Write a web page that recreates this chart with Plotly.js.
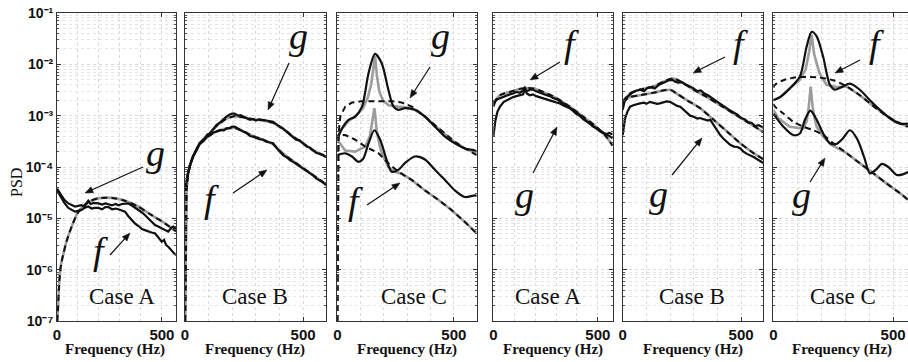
<!DOCTYPE html>
<html><head><meta charset="utf-8">
<script src="https://cdn.plot.ly/plotly-3.0.1.min.js"></script>
<style>html,body{margin:0;padding:0;background:#fff}#chart{width:908px;height:362px}</style>
</head><body><div id="chart"></div>
<script>
// ---------------- DATA ----------------
const caseLabels = ['Case A','Case B','Case C','Case A','Case B','Case C'];
const xTickText = ['0','500'];
const yTickText = ['10\u207B\u2077','10\u207B\u2076','10\u207B\u2075','10\u207B\u2074','10\u207B\u00B3','10\u207B\u00B2','10\u207B\u00B9'];

// Panel 1 : Case A (left group)
const a1_fit_hz  = [1,4,8,13,20,30,45,70,100,148,195,262,324,386,451,514,567];
const a1_fit_psd = [1e-7,1.5e-7,3.5e-7,7.5e-7,1.3e-6,2e-6,3.5e-6,6.9e-6,1.3e-5,2.05e-5,2.45e-5,2.5e-5,2.2e-5,1.7e-5,1.15e-5,8e-6,5.6e-6];
const a1_g_hz  = [0,10,22,35,54,70,86,100,117,130,140,149,160,175,197,215,230,245,262,280,292,310,325,340,355,370,387,405,420,435,450,467,480,499,515,530,545,554,567];
const a1_g_psd = [3.8e-5,3.3e-5,2.8e-5,2.3e-5,1.95e-5,1.8e-5,1.7e-5,1.75e-5,1.8e-5,1.7e-5,1.95e-5,2.2e-5,1.9e-5,2.0e-5,1.95e-5,1.85e-5,1.95e-5,1.9e-5,1.8e-5,1.9e-5,1.8e-5,1.9e-5,1.95e-5,1.95e-5,1.8e-5,1.65e-5,1.45e-5,1.3e-5,1.15e-5,1.0e-5,8.5e-6,7.4e-6,7.0e-6,6.3e-6,5.8e-6,5.5e-6,6.6e-6,6.9e-6,6.3e-6];
const a1_f_hz  = [0,10,22,35,54,70,86,100,117,130,149,165,180,197,215,230,245,262,280,292,310,324,340,355,371,390,405,419,435,450,467,480,499,510,520,530,545,567];
const a1_f_psd = [3.5e-5,3.0e-5,2.5e-5,2.0e-5,1.6e-5,1.45e-5,1.35e-5,1.4e-5,1.45e-5,1.6e-5,1.7e-5,1.55e-5,1.6e-5,1.6e-5,1.5e-5,1.65e-5,1.65e-5,1.5e-5,1.55e-5,1.5e-5,1.4e-5,1.35e-5,1.1e-5,9.5e-6,8e-6,7e-6,6.2e-6,5.9e-6,5.5e-6,5.3e-6,5.1e-6,4.3e-6,3.5e-6,3.8e-6,3.0e-6,2.8e-6,2.4e-6,1.9e-6];

// Panel 2 : Case B (left group)
const b1_gfit_hz  = [0.5,3,6,13,20,34,62,105,133,175,210,246,288,331,373,415,458,500,542,585,597];
const b1_gfit_psd = [1e-7,2e-5,3.5e-5,7.6e-5,1.05e-4,1.6e-4,2.9e-4,4.5e-4,6.3e-4,8.8e-4,9.8e-4,9.3e-4,8.5e-4,8.1e-4,7.3e-4,5.6e-4,3.9e-4,2.9e-4,2.1e-4,1.7e-4,1.55e-4];
const b1_ffit_hz  = [0.5,3,6,13,20,34,62,105,133,175,210,246,288,331,373,415,458,500,542,597];
const b1_ffit_psd = [1e-7,2e-5,3.5e-5,7.6e-5,1.05e-4,1.6e-4,2.8e-4,4.2e-4,4.9e-4,5.6e-4,5.8e-4,5.0e-4,4.0e-4,3.4e-4,2.8e-4,1.8e-4,1.3e-4,9.4e-5,6.9e-5,4.6e-5];
const b1_meas_hz = [0,5,13,22,34,48,62,80,95,105,120,133,150,165,175,190,200,210,225,235,246,260,275,288,300,315,331,345,360,373,390,405,415,430,445,458,470,485,500,515,528,542,555,570,585,597];
const b1_g_psd = [3.5e-5,5e-5,7.6e-5,1.1e-4,1.6e-4,2.2e-4,2.9e-4,3.5e-4,4.3e-4,4.5e-4,5.5e-4,6.6e-4,7.5e-4,8.8e-4,9.6e-4,1.05e-3,1.1e-3,1.1e-3,1.0e-3,1.02e-3,9.6e-4,9.0e-4,8.3e-4,8.6e-4,8.0e-4,8.5e-4,8.3e-4,8.0e-4,7.9e-4,7.6e-4,6.6e-4,6.0e-4,5.6e-4,4.9e-4,4.3e-4,3.9e-4,3.4e-4,3.3e-4,2.9e-4,2.5e-4,2.4e-4,2.1e-4,1.9e-4,1.8e-4,1.7e-4,1.55e-4];
const b1_f_psd = [3.5e-5,5e-5,7.6e-5,1.1e-4,1.6e-4,2.1e-4,2.8e-4,3.3e-4,4.0e-4,4.1e-4,4.7e-4,4.9e-4,5.3e-4,5.2e-4,5.6e-4,5.8e-4,6.1e-4,6.1e-4,5.5e-4,5.2e-4,4.9e-4,4.6e-4,4.0e-4,3.9e-4,3.7e-4,3.5e-4,3.4e-4,3.1e-4,3.0e-4,2.9e-4,2.3e-4,1.9e-4,1.7e-4,1.55e-4,1.35e-4,1.26e-4,1.15e-4,1.05e-4,9.4e-5,8.3e-5,7.6e-5,6.9e-5,6.0e-5,5.5e-5,5.0e-5,4.4e-5];

// Panel 3 : Case C (left group)
const c1_g_hz  = [0,20,48,77,106,134,162,191,219,241,262,291,333,376,419,462,504,547,590,598];
const c1_g_psd = [3.6e-4,5.6e-4,8.3e-4,9.6e-4,1.5e-3,6.7e-3,1.6e-2,1.04e-2,3.2e-3,1.5e-3,1.3e-3,1.4e-3,1.3e-3,9.6e-4,6.1e-4,3.9e-4,2.9e-4,2.3e-4,2.1e-4,2.0e-4];
const c1_ggray_hz  = [0,20,50,80,110,130,145,155,162,170,180,195,220,260,291,333,376,419,462,504,547,598];
const c1_ggray_psd = [3.6e-4,5.6e-4,8e-4,1e-3,1.4e-3,2.2e-3,4e-3,8e-3,1.45e-2,6e-3,3e-3,2e-3,1.6e-3,1.5e-3,1.45e-3,1.3e-3,9.6e-4,6.4e-4,4.3e-4,3e-4,2.3e-4,1.8e-4];
const c1_gfit_hz  = [0.5,3,8,13,34,63,100,150,200,240,276,320,376,419,462,504,547,598];
const c1_gfit_psd = [1e-7,3e-4,6e-4,9.6e-4,1.5e-3,1.8e-3,1.9e-3,1.9e-3,1.9e-3,1.9e-3,1.8e-3,1.5e-3,9.6e-4,6.6e-4,4.5e-4,3.1e-4,2.3e-4,1.7e-4];
const c1_f_hz  = [0,34,63,91,111,134,159,184,211,233,262,291,333,376,419,462,504,547,590,598];
const c1_f_psd = [1.7e-4,1.85e-4,1.6e-4,1.26e-4,1.45e-4,2.9e-4,5.2e-4,3.4e-4,1.4e-4,8.1e-5,8.8e-5,1.2e-4,1.6e-4,1.4e-4,8.8e-5,5.6e-5,3.5e-5,2.6e-5,2.8e-5,2.7e-5];
const c1_fgray_hz  = [0,34,77,120,140,148,155,159,163,169,180,191,219,248,276,319,376,433,490,547,598];
const c1_fgray_psd = [3.4e-4,2.1e-4,2e-4,2.5e-4,4e-4,7e-4,1.1e-3,1.4e-3,1.0e-3,5e-4,2.8e-4,1.85e-4,1.0e-4,8.1e-5,7.4e-5,5.6e-5,3.5e-5,2.3e-5,1.45e-5,8.6e-6,5.2e-6];
const c1_ffit_hz  = [0.5,3,6,34,77,120,177,219,262,319,376,433,490,547,598];
const c1_ffit_psd = [1e-7,2e-4,4.2e-4,4.2e-4,3.4e-4,2.5e-4,1.85e-4,1.18e-4,8.1e-5,5.6e-5,3.5e-5,2.3e-5,1.45e-5,8.6e-6,5e-6];

// Panel 4 : Case A (right group)
const a2_ffit_hz  = [0,32,79,143,190,238,302,365,429,492,540,571];
const a2_ffit_psd = [1.74e-3,2.5e-3,2.9e-3,3.4e-3,3.4e-3,2.9e-3,2.2e-3,1.5e-3,9.6e-4,6.1e-4,3.9e-4,2.6e-4];
const a2_meas_hz = [0,10,20,32,50,65,79,95,110,127,143,151,160,175,190,205,222,238,255,270,285,302,317,333,350,365,380,395,413,429,445,460,476,492,508,524,540,556,571];
const a2_f_psd = [1.5e-3,1.9e-3,2.1e-3,2.2e-3,2.3e-3,2.5e-3,2.6e-3,2.7e-3,2.9e-3,2.8e-3,3.1e-3,3.5e-3,3.0e-3,3.2e-3,3.2e-3,3.0e-3,2.8e-3,2.7e-3,2.5e-3,2.4e-3,2.2e-3,2.1e-3,1.9e-3,1.75e-3,1.6e-3,1.45e-3,1.3e-3,1.15e-3,1.05e-3,9.2e-4,7.8e-4,7.2e-4,6.2e-4,5.8e-4,5.0e-4,4.6e-4,4.4e-4,4.6e-4,4.3e-4];
const a2_g_psd = [3.9e-4,8e-4,1.2e-3,1.5e-3,1.86e-3,2.0e-3,2.2e-3,2.3e-3,2.4e-3,2.5e-3,2.6e-3,3.4e-3,2.7e-3,2.5e-3,2.6e-3,2.4e-3,2.3e-3,2.2e-3,2.1e-3,2.0e-3,1.9e-3,1.8e-3,1.74e-3,1.6e-3,1.5e-3,1.4e-3,1.25e-3,1.1e-3,1.0e-3,8.6e-4,7.8e-4,7e-4,6.1e-4,5.6e-4,5.2e-4,4.7e-4,4.3e-4,4.0e-4,3.6e-4];

// Panel 5 : Case B (right group)
const b2_ffit_hz  = [0,31,73,130,172,214,257,299,356,412,469,525,582,594];
const b2_ffit_psd = [1.86e-3,2.7e-3,3.2e-3,3.7e-3,4.6e-3,5.3e-3,4.3e-3,3.2e-3,2.3e-3,1.6e-3,1.1e-3,7.6e-4,5.2e-4,4.8e-4];
const b2_gfit_hz  = [0,31,73,130,200,228,271,327,384,441,497,553,596];
const b2_gfit_psd = [1.86e-3,2.3e-3,2.5e-3,2.8e-3,3.2e-3,2.7e-3,2.0e-3,1.4e-3,8.3e-4,4.9e-4,2.9e-4,1.86e-4,1.4e-4];
const b2_f_hz  = [0,8,18,31,45,60,73,90,105,120,135,150,165,180,195,210,222,235,250,265,280,299,315,330,345,360,375,390,405,420,435,450,469,485,500,515,530,545,560,575,594];
const b2_f_psd = [1.3e-3,1.9e-3,2.3e-3,2.6e-3,2.9e-3,3.1e-3,3.2e-3,3.0e-3,3.5e-3,3.6e-3,3.4e-3,3.9e-3,4.2e-3,4.4e-3,4.9e-3,5.0e-3,4.6e-3,4.4e-3,4.5e-3,4.0e-3,3.8e-3,3.4e-3,3.0e-3,3.1e-3,2.7e-3,2.5e-3,2.2e-3,2.0e-3,1.8e-3,1.6e-3,1.45e-3,1.3e-3,1.15e-3,1.05e-3,9e-4,8.5e-4,7.5e-4,7.2e-4,6.3e-4,6.5e-4,5.8e-4];
const b2_g_hz  = [0,5,10,20,31,45,60,73,90,100,115,130,145,157,170,185,200,215,230,243,260,272,285,300,315,327,345,360,370,385,400,412,425,440,454,470,485,497,510,525,539,555,570,589,594];
const b2_g_psd = [4.2e-4,6e-4,8.9e-4,1.2e-3,1.5e-3,1.6e-3,1.7e-3,1.74e-3,1.8e-3,1.7e-3,1.86e-3,1.8e-3,1.7e-3,1.74e-3,1.8e-3,1.9e-3,1.86e-3,1.7e-3,1.55e-3,1.5e-3,1.25e-3,1.15e-3,1.0e-3,9.5e-4,8.8e-4,9e-4,8.5e-4,8.0e-4,8.3e-4,6.5e-4,5.0e-4,4.2e-4,3.6e-4,3.1e-4,2.7e-4,2.5e-4,2.45e-4,2.3e-4,2.0e-4,1.8e-4,1.7e-4,1.55e-4,1.4e-4,1.26e-4,1.2e-4];

// Panel 6 : Case C (right group)
const c2_f_hz  = [0,28,69,111,139,160,181,208,236,257,285,320,361,403,445,486,528,562];
const c2_f_psd = [2.0e-3,2.3e-3,3.4e-3,5.8e-3,2.2e-2,4.3e-2,3.5e-2,1.4e-2,4e-3,3.2e-3,3.6e-3,4.2e-3,3.2e-3,2.0e-3,1.3e-3,8.9e-4,7e-4,7e-4];
const c2_fgray_hz  = [0,28,69,111,135,150,160,170,185,194,222,264,306,361,403,458,514,562];
const c2_fgray_psd = [2.0e-3,2.3e-3,3.4e-3,5e-3,8e-3,1.8e-2,3.8e-2,1.6e-2,9e-3,6.5e-3,4e-3,3.6e-3,3.7e-3,2.5e-3,1.74e-3,1.1e-3,7.6e-4,6.1e-4];
const c2_ffit_hz  = [0,7,42,97,181,250,306,361,403,458,514,562];
const c2_ffit_psd = [3.5e-3,4e-3,4.9e-3,5.6e-3,5.6e-3,4.9e-3,3.7e-3,2.5e-3,1.74e-3,1.1e-3,7.6e-4,6.1e-4];
const c2_g_hz  = [0,42,83,111,132,155,181,208,236,262,290,320,350,380,403,430,453,480,515,540,562];
const c2_g_psd = [1.1e-3,6.1e-4,4.2e-4,4.5e-4,8.3e-4,1.25e-3,8.3e-4,4.5e-4,2.9e-4,2.8e-4,3.6e-4,5.2e-4,3.5e-4,1.5e-4,7.5e-5,9e-5,1.15e-4,1.0e-4,7e-5,7.2e-5,8e-5];
const c2_ggray_hz  = [0,20,69,125,140,148,156,164,172,181,208,243,306,361,417,472,528,562];
const c2_ggray_psd = [1.3e-3,9e-4,6.1e-4,5.6e-4,8e-4,1.5e-3,3.7e-3,1.5e-3,9e-4,6.1e-4,3.9e-4,2.7e-4,1.86e-4,1.18e-4,7.6e-5,4.8e-5,3.1e-5,2.3e-5];
const c2_gfit_hz  = [0,7,42,83,125,167,208,250,306,361,417,472,528,562];
const c2_gfit_psd = [1.7e-3,1.5e-3,1.1e-3,7.6e-4,6.1e-4,5.2e-4,4.2e-4,2.9e-4,1.86e-4,1.18e-4,7.6e-5,4.8e-5,3.1e-5,2.3e-5];

// ---------------- LAYOUT / STYLE ----------------
const W = 908, H = 362;
const px = x => x / W, py = y => 1 - y / H;
const yTop = 13, yBot = 321;
const SERIF = 'Liberation Serif';
const SANS = 'Liberation Sans';
const panels = [
  {x0: 57,    x1: 176,   xmax: 567},
  {x0: 185,   x1: 326,   xmax: 597},
  {x0: 337.3, x1: 476.7, xmax: 598},
  {x0: 493.3, x1: 612.7, xmax: 571},
  {x0: 622.7, x1: 763.3, xmax: 594},
  {x0: 773.3, x1: 908,   xmax: 562}
];
const styles = {
  gray:  {color: '#9c9c9c', width: 2.6},
  black: {color: '#111111', width: 2.2},
  dash:  {color: '#111111', width: 2, dash: '6px,4px'}
};

const traces = [];
function add(i, xs, ys, kind, smooth) {
  const s = i === 0 ? '' : String(i + 1);
  traces.push({
    type: 'scatter', mode: 'lines', x: xs, y: ys,
    xaxis: 'x' + s, yaxis: 'y' + s,
    line: Object.assign({}, styles[kind], smooth ? {shape: 'spline', smoothing: 0.8} : {}),
    hoverinfo: 'skip', showlegend: false
  });
}
add(0, a1_fit_hz, a1_fit_psd, 'gray', true);
add(0, a1_g_hz, a1_g_psd, 'black');
add(0, a1_f_hz, a1_f_psd, 'black');
add(0, a1_fit_hz, a1_fit_psd, 'dash', true);
add(1, b1_gfit_hz, b1_gfit_psd, 'gray');
add(1, b1_ffit_hz, b1_ffit_psd, 'gray');
add(1, b1_meas_hz, b1_g_psd, 'black');
add(1, b1_meas_hz, b1_f_psd, 'black');
add(1, b1_gfit_hz, b1_gfit_psd, 'dash');
add(1, b1_ffit_hz, b1_ffit_psd, 'dash');
add(2, c1_ggray_hz, c1_ggray_psd, 'gray');
add(2, c1_fgray_hz, c1_fgray_psd, 'gray');
add(2, c1_g_hz, c1_g_psd, 'black', true);
add(2, c1_f_hz, c1_f_psd, 'black', true);
add(2, c1_gfit_hz, c1_gfit_psd, 'dash');
add(2, c1_ffit_hz, c1_ffit_psd, 'dash');
add(3, a2_ffit_hz, a2_ffit_psd, 'gray', true);
add(3, a2_meas_hz, a2_f_psd, 'black');
add(3, a2_meas_hz, a2_g_psd, 'black');
add(3, a2_ffit_hz, a2_ffit_psd, 'dash', true);
add(4, b2_ffit_hz, b2_ffit_psd, 'gray', true);
add(4, b2_gfit_hz, b2_gfit_psd, 'gray', true);
add(4, b2_f_hz, b2_f_psd, 'black');
add(4, b2_g_hz, b2_g_psd, 'black');
add(4, b2_ffit_hz, b2_ffit_psd, 'dash', true);
add(4, b2_gfit_hz, b2_gfit_psd, 'dash', true);
add(5, c2_fgray_hz, c2_fgray_psd, 'gray');
add(5, c2_ggray_hz, c2_ggray_psd, 'gray');
add(5, c2_f_hz, c2_f_psd, 'black', true);
add(5, c2_g_hz, c2_g_psd, 'black', true);
add(5, c2_ffit_hz, c2_ffit_psd, 'dash', true);
add(5, c2_gfit_hz, c2_gfit_psd, 'dash', true);

const yTickVals = [], yMinorVals = [];
for (let e = -7; e <= -1; e++) {
  yTickVals.push(Math.pow(10, e));
  if (e < -1) for (let m = 2; m <= 9; m++) yMinorVals.push(m * Math.pow(10, e));
}
const gridCol = '#d9d9d9';
const layout = {
  width: W, height: H, margin: {l: 0, r: 0, t: 0, b: 0},
  paper_bgcolor: '#fff', plot_bgcolor: '#fff',
  showlegend: false, annotations: [], shapes: []
};
panels.forEach((p, i) => {
  const s = i === 0 ? '' : String(i + 1);
  layout['xaxis' + s] = {
    domain: [px(p.x0), px(p.x1)], range: [0, p.xmax], anchor: 'y' + s,
    tickmode: 'array', tickvals: [0, 500], ticktext: xTickText,
    ticks: 'inside', ticklen: 4, tickcolor: '#333',
    showline: true, linecolor: '#333', linewidth: 1, mirror: 'ticks',
    showgrid: true, gridcolor: gridCol, griddash: 'dot', zeroline: false,
    tickfont: {family: SANS, size: 15, weight: 'bold', color: '#111'},
    minor: {tickmode: 'array', tickvals: [100, 200, 300, 400, 600], showgrid: true,
            gridcolor: gridCol, griddash: 'dot', ticks: ''},
    automargin: false, fixedrange: true
  };
  layout['yaxis' + s] = {
    domain: [py(yBot), py(yTop)], type: 'log', range: [-7, -1], anchor: 'x' + s,
    tickmode: 'array', tickvals: yTickVals, ticktext: yTickText,
    showticklabels: i === 0, ticks: 'inside', ticklen: 4, tickcolor: '#333',
    showline: true, linecolor: '#333', linewidth: 1, mirror: i < 5 ? 'ticks' : false,
    showgrid: true, gridcolor: gridCol, griddash: 'dot', zeroline: false,
    tickfont: {family: SANS, size: 14, weight: 'bold', color: '#111'},
    minor: {tickmode: 'array', tickvals: yMinorVals, showgrid: true,
            gridcolor: '#e4e4e4', griddash: 'dot', ticks: 'inside', ticklen: 2, tickcolor: '#555'},
    automargin: false, fixedrange: true
  };
});

// x-axis titles
const xTitleCenters = [115, 255, 407, 553, 693, 842];
xTitleCenters.forEach(cx => {
  layout.annotations.push({xref: 'paper', yref: 'paper', x: px(cx), y: py(349), text: 'Frequency (Hz)',
    showarrow: false, xanchor: 'center', yanchor: 'middle',
    font: {family: SERIF, size: 15, weight: 'bold', color: '#111'}});
});
// case labels
const caseLabelPos = [[122,296],[255,296],[414,296],[548,296],[692,296],[843,296]];
caseLabels.forEach((t, i) => {
  layout.annotations.push({xref: 'paper', yref: 'paper', x: px(caseLabelPos[i][0]), y: py(caseLabelPos[i][1]),
    text: t, showarrow: false, xanchor: 'center', yanchor: 'middle',
    font: {family: SERIF, size: 23, color: '#111'}});
});
// PSD label
layout.annotations.push({xref: 'paper', yref: 'paper', x: px(16), y: py(183), text: 'PSD',
  textangle: -90, showarrow: false, xanchor: 'center', yanchor: 'middle',
  font: {family: SERIF, size: 16, color: '#111'}});

// italic letters
const letters = [
  ['g',155,153],['f',100,251],['g',298,36],['f',211,199],['g',440,36],['f',355,201],
  ['f',571,44],['g',524,195],['f',740,44],['g',658,194],['f',876,44],['g',801,195]
];
letters.forEach(l => {
  layout.annotations.push({xref: 'paper', yref: 'paper', x: px(l[1]), y: py(l[2]), text: l[0],
    showarrow: false, xanchor: 'center', yanchor: 'middle',
    font: {family: SERIF, size: 38, style: 'italic', color: '#111'}});
});
// arrows drawn as shapes: [tailX, tailY, tipX, tipY] in pixels
const arrows = [
  [143,167,85,193],[110,255,130,233],[289,63,268,110],[233,193,267,170],
  [430,67,410,98],[367,205,400,183],[560,62,530,80],[533,173,557,127],
  [725,57,693,73],[672,175,702,138],[860,60,835,73],[810,182,825,158]
];
arrows.forEach(a => {
  const dx = a[2] - a[0], dy = a[3] - a[1], L = Math.hypot(dx, dy);
  const ux = dx / L, uy = dy / L, nx = -uy, ny = ux;
  const hl = 8, hw = 3.2;
  const bx = a[2] - ux * hl, by = a[3] - uy * hl;
  layout.shapes.push({type: 'line', xref: 'paper', yref: 'paper',
    x0: px(a[0]), y0: py(a[1]), x1: px(bx + ux * 2), y1: py(by + uy * 2),
    line: {color: '#111', width: 1.2}});
  const pts = [[a[2], a[3]], [bx + nx * hw, by + ny * hw], [bx - nx * hw, by - ny * hw]];
  const path = 'M' + pts.map(q => px(q[0]).toFixed(5) + ',' + py(q[1]).toFixed(5)).join(' L') + ' Z';
  layout.shapes.push({type: 'path', xref: 'paper', yref: 'paper', path: path,
    fillcolor: '#111', line: {color: '#111', width: 0.5}});
});

Plotly.newPlot('chart', traces, layout, {displayModeBar: false, staticPlot: true}).then(gd => {
  gd.querySelectorAll('text').forEach(t => { if (!t.textContent.trim()) t.remove(); });
});
</script></body></html>
